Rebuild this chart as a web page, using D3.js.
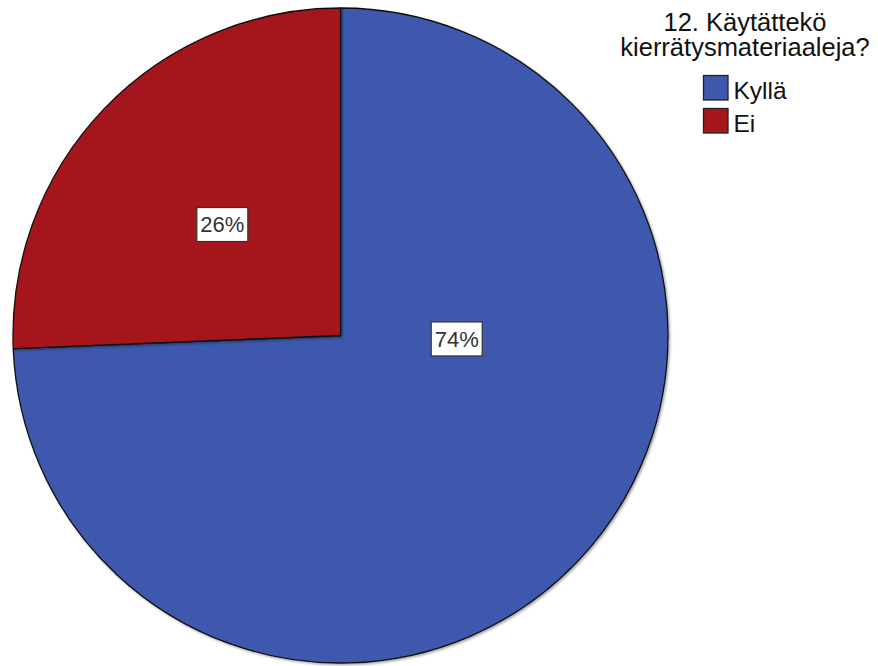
<!DOCTYPE html>
<html>
<head>
<meta charset="utf-8">
<script src="https://cdn.jsdelivr.net/npm/d3@7"></script>
<style>
html,body{margin:0;padding:0;background:#fff;}
svg{display:block;font-family:Arial,"Liberation Sans",sans-serif;}
</style>
</head>
<body>
<svg id="chart" width="878" height="666"></svg>
<script>
// ---- data ----
const categories = ["Kyllä", "Ei"];
const counts = [29, 10];
const colors = ["#3E58AC", "#A5171C"];
const legendTitle = ["12. Käytättekö", "kierrätysmateriaaleja?"];

// ---- layout ----
const W = 878, H = 666;
const cx = 340.5, cy = 335.5, R = 327.5;
// label anchors (angle in degrees clockwise from 12 o'clock, radius fraction)
const labelAnchor = [{a: 91.7, f: 0.355}, {a: -46.8, f: 0.495}];

const svg = d3.select("#chart");
const data = categories.map((c, i) => ({cat: c, v: counts[i], col: colors[i], i}));
const total = d3.sum(counts);

const pie = d3.pie().sort(null).value(d => d.v);
const arc = d3.arc().innerRadius(0).outerRadius(R);
const arcs = pie(data);

const defs = svg.append("defs");
const f = defs.append("filter").attr("id", "sh").attr("x", "-5%").attr("y", "-5%").attr("width", "110%").attr("height", "110%");
f.append("feDropShadow").attr("dx", 1.5).attr("dy", 1.5).attr("stdDeviation", 1.2).attr("flood-color", "#000").attr("flood-opacity", 0.35);

const g = svg.append("g").attr("transform", `translate(${cx},${cy})`);
g.selectAll("path.slice").data(arcs).join("path")
  .attr("class", "slice")
  .attr("d", arc)
  .attr("fill", d => d.data.col)
  .attr("stroke", "#111")
  .attr("stroke-width", 1.3)
  .attr("stroke-linejoin", "round")
  .attr("filter", "url(#sh)");

// labels
const lab = g.selectAll("g.lab").data(arcs).join("g").attr("class", "lab")
  .attr("transform", d => {
    const la = labelAnchor[d.data.i];
    const p = d3.pointRadial(la.a * Math.PI / 180, la.f * R);
    return `translate(${p[0]},${p[1]})`;
  });
lab.append("rect")
  .attr("x", -25.5).attr("y", -17).attr("width", 51).attr("height", 34)
  .attr("fill", "#fff").attr("stroke", "#333").attr("stroke-width", 1.2);
lab.append("text")
  .attr("text-anchor", "middle").attr("dy", "0.36em")
  .attr("font-size", 22).attr("fill", "#333")
  .text(d => Math.round(d.data.v / total * 100) + "%");

// legend
const lx = 745;
const lt = svg.append("text").attr("text-anchor", "middle").attr("font-size", 25.5).attr("fill", "#111");
legendTitle.forEach((t, i) => {
  lt.append("tspan").attr("x", lx).attr("y", 31 + i * 24.5).text(t);
});
const leg = svg.selectAll("g.leg").data(data).join("g").attr("class", "leg")
  .attr("transform", (d, i) => `translate(703.5,${75.5 + i * 33})`);
leg.append("rect").attr("width", 24.5).attr("height", 24.5)
  .attr("fill", d => d.col).attr("stroke", "#222").attr("stroke-width", 1.3);
leg.append("text").attr("x", 30).attr("y", 23.5).attr("font-size", 24.5).attr("fill", "#111")
  .text(d => d.cat);
</script>
</body>
</html>
